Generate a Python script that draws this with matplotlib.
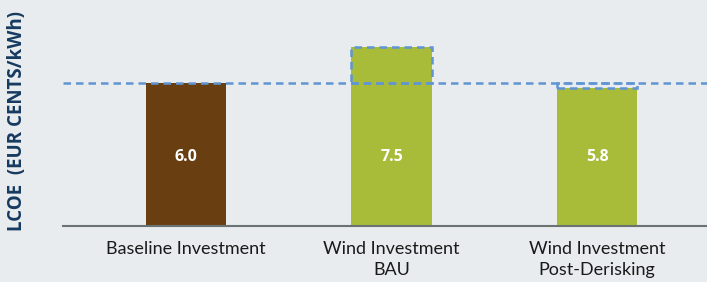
import matplotlib
matplotlib.use('Agg')
import matplotlib.pyplot as plt
from matplotlib.patches import Rectangle

plt.rcParams['font.family'] = ['Lato', 'DejaVu Sans']

# data
categories = ['Baseline Investment', 'Wind Investment\nBAU', 'Wind Investment\nPost-Derisking']
lcoe = [6.0, 7.5, 5.8]
bar_colors = ['#693f12', '#a8bc3a', '#a8bc3a']
baseline = lcoe[0]

bg = '#e8ecee'
dash_color = '#5f95d3'

fig = plt.figure(figsize=(7.07, 2.82), dpi=100, facecolor=bg)
ax = fig.add_axes([0.089, 0.1986, 0.911, 0.8014], facecolor=bg)

x = range(len(categories))
width = 0.39
ax.bar(x, lcoe, width, color=bar_colors, zorder=2)

# reference line at baseline value
ax.axhline(baseline, color=dash_color, lw=1.8, ls=(0, (3, 2)), zorder=3)

# dashed box showing the gap to the baseline
for i, v in enumerate(lcoe[1:], start=1):
    lo, hi = min(v, baseline), max(v, baseline)
    ax.add_patch(Rectangle((i - width / 2, lo), width, hi - lo, fill=False,
                           edgecolor=dash_color, lw=1.8, ls=(0, (3, 2)), zorder=3))

# value labels sit at the same height in every bar
for i, v in enumerate(lcoe):
    ax.text(i, 2.9, f'{v:.1f}', ha='center', va='center', color='white',
            fontsize=11.5, fontweight='bold', family=['Open Sans', 'DejaVu Sans'], zorder=4)

ax.set_xlim(-0.599, 2.535)
ax.set_ylim(0, 9.48)
ax.set_xticks(list(x))
ax.set_xticklabels(categories, fontsize=13, color='#1a1a1a', linespacing=1.34)
ax.tick_params(axis='x', length=0, pad=11)
ax.set_yticks([])
for s in ['top', 'right', 'left']:
    ax.spines[s].set_visible(False)
ax.spines['bottom'].set_color('#6b7272')
ax.spines['bottom'].set_linewidth(1.5)

fig.text(0.024, 0.571, 'LCOE  (EUR CENTS/kWh)', rotation=90, ha='center', va='center',
         fontsize=13.5, fontweight='bold', color='#163a5f', family=['Open Sans', 'DejaVu Sans'])

fig.savefig('out.png', dpi=100, facecolor=bg)
